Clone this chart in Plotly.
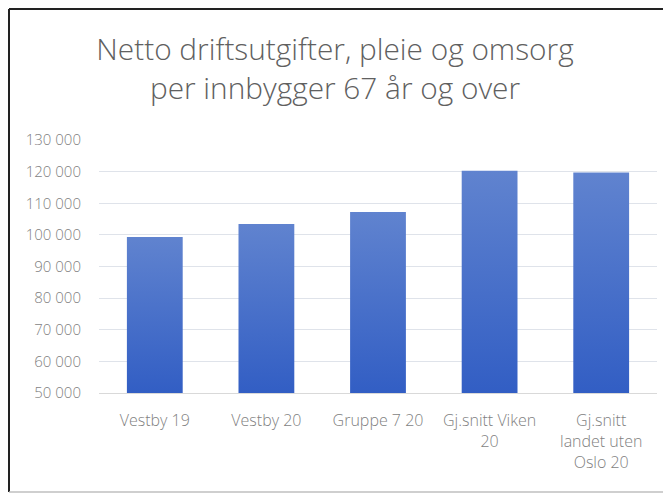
import plotly.graph_objects as go

categories = ["Vestby 19", "Vestby 20", "Gruppe 7 20", "Gj.snitt Viken<br>20", "Gj.snitt<br>landet uten<br>Oslo 20"]
values = [99300, 103400, 107200, 120300, 119700]
y_ticks = [50000, 60000, 70000, 80000, 90000, 100000, 110000, 120000, 130000]
y_tick_labels = ["50 000", "60 000", "70 000", "80 000", "90 000", "100 000", "110 000", "120 000", "130 000"]

BASE = 50000
HALF_W = 0.25
TOP_COLOR = "rgb(96,131,207)"
BOTTOM_COLOR = "rgb(50,94,196)"
TEXT = "#7f7f7f"

W, H = 663, 486
L, R, T, B = 91, 14, 132, 101
PW, PH = W - L - R, H - T - B

fig = go.Figure()
for i, v in enumerate(values):
    xs = [i - HALF_W, i + HALF_W, i + HALF_W, i - HALF_W, i - HALF_W]
    ys = [BASE, BASE, v, v, BASE]
    fig.add_trace(go.Scatter(
        x=xs, y=ys, mode="lines", fill="toself",
        line=dict(width=0, color=TOP_COLOR),
        fillgradient=dict(type="vertical", start=BASE, stop=v,
                          colorscale=[[0, BOTTOM_COLOR], [1, TOP_COLOR]]),
        hoverinfo="skip", showlegend=False,
    ))

# frame positions in paper units (figure pixel -> paper)
bx = (1 - L) / PW
ty = (H - B - 1) / PH
by = (2 - B) / PH

fig.update_layout(
    width=W, height=H,
    margin=dict(l=L, r=R, t=T, b=B, autoexpand=False),
    paper_bgcolor="white", plot_bgcolor="white",
    font=dict(family="Open Sans", color=TEXT),
    title=dict(
        text="Netto driftsutgifter, pleie og omsorg<br>per innbygger 67 år og over",
        x=327 / W, xref="container", xanchor="center",
        yref="container", y=1 - 52 / H, yanchor="middle",
        font=dict(size=29.8, color="#606060", family="Open Sans", weight=300),
    ),
    xaxis=dict(
        range=[-0.5, 4.5], tickvals=list(range(len(categories))), ticktext=categories,
        showgrid=False, zeroline=False, showline=True, linecolor="#d9d9d9",
        ticks="", tickfont=dict(size=16, color=TEXT, weight=300), automargin=False,
        ticklabelstandoff=13, fixedrange=True,
    ),
    yaxis=dict(
        range=[50000, 130000], tickvals=y_ticks, ticktext=y_tick_labels,
        showgrid=True, gridcolor="#dfe3ea", gridwidth=1, zeroline=False,
        showline=False, ticks="", ticklabelstandoff=17, automargin=False,
        tickfont=dict(size=15, color=TEXT, weight=300), fixedrange=True,
    ),
    shapes=[
        dict(type="line", xref="paper", yref="paper", x0=bx, x1=bx, y0=by, y1=ty,
             line=dict(color="#222222", width=2)),
        dict(type="line", xref="paper", yref="paper", x0=bx, x1=1.05, y0=ty, y1=ty,
             line=dict(color="#222222", width=2)),
        dict(type="line", xref="paper", yref="paper", x0=bx, x1=1.05, y0=by, y1=by,
             line=dict(color="#bfbfbf", width=1.5)),
    ],
)

fig.write_html("out.html")
